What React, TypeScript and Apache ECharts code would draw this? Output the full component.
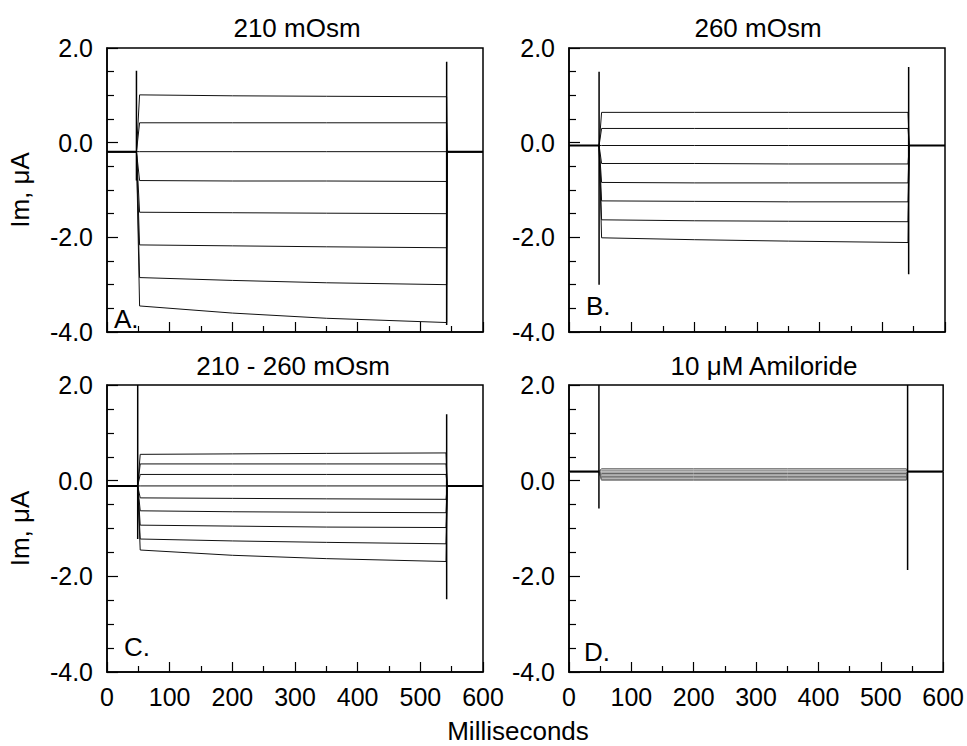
import { useEffect, useRef } from "react";
import * as echarts from "echarts";

// ---------- text ----------
const panelTitles = ["210 mOsm", "260 mOsm", "210 - 260 mOsm", "10 \u03bcM Amiloride"];
const panelLetters = ["A.", "B.", "C.", "D."];
const yAxisTitle = "Im, \u03bcA";
const xAxisTitle = "Milliseconds";

// ---------- axis ranges ----------
const xMin = 0;
const xMax = 600;
const xStep = 100;
const yMin = -4;
const yMax = 2;
const yStep = 2;

// ---------- data (ms, µA) ----------
// sample times of each step trace: holding, pulse onset, pulse plateau start, 200 ms, 350 ms, plateau end, return, end
const timesA = [0, 47, 52, 200, 350, 542, 543, 600];
const timesB = [0, 48, 52, 200, 350, 541, 543, 600];
const timesC = [0, 49, 53, 200, 350, 541, 543, 600];
const timesD = [0, 48, 52, 200, 350, 541, 543, 600];

const holdA = -0.19;
const holdB = -0.06;
const holdC = -0.11;
const holdD = 0.19;

// Panel A (210 mOsm)
const startA = [1.01, 0.42, -0.19, -0.8, -1.47, -2.16, -2.85, -3.45];
const at200A = [0.99, 0.42, -0.19, -0.81, -1.48, -2.18, -2.91, -3.6];
const at350A = [0.98, 0.42, -0.19, -0.81, -1.49, -2.2, -2.96, -3.71];
const endA = [0.97, 0.42, -0.19, -0.82, -1.5, -2.22, -3.0, -3.8];

// Panel B (260 mOsm)
const startB = [0.64, 0.3, -0.06, -0.44, -0.84, -1.23, -1.63, -2.01];
const at200B = [0.64, 0.3, -0.06, -0.44, -0.85, -1.24, -1.65, -2.05];
const at350B = [0.64, 0.3, -0.06, -0.45, -0.85, -1.25, -1.66, -2.08];
const endB = [0.64, 0.3, -0.06, -0.45, -0.85, -1.25, -1.67, -2.11];

// Panel C (210 - 260 mOsm)
const startC = [0.55, 0.35, 0.13, -0.11, -0.36, -0.63, -0.93, -1.22, -1.45];
const at200C = [0.56, 0.35, 0.13, -0.11, -0.37, -0.65, -0.95, -1.26, -1.56];
const at350C = [0.57, 0.35, 0.13, -0.11, -0.38, -0.66, -0.97, -1.29, -1.63];
const endC = [0.58, 0.35, 0.13, -0.11, -0.39, -0.67, -0.98, -1.32, -1.69];

// Panel D (10 µM Amiloride)
const startD = [0.25, 0.22, 0.18, 0.15, 0.12, 0.09, 0.06, 0.03, 0.01];
const at200D = [0.25, 0.22, 0.18, 0.15, 0.12, 0.09, 0.06, 0.03, 0.01];
const at350D = [0.25, 0.22, 0.18, 0.15, 0.12, 0.09, 0.06, 0.03, 0.01];
const endD = [0.25, 0.22, 0.18, 0.15, 0.12, 0.09, 0.06, 0.03, 0.01];

// capacitive transients: time, top, bottom
const spikeTimesA = [47, 542];
const spikeTopA = [1.52, 1.71];
const spikeBottomA = [-0.8, -3.85];
const spikeTimesB = [48, 542];
const spikeTopB = [1.5, 1.6];
const spikeBottomB = [-3.0, -2.78];
const spikeTimesC = [49, 542];
const spikeTopC = [2.0, 1.39];
const spikeBottomC = [-1.22, -2.48];
const spikeTimesD = [48, 543];
const spikeTopD = [2.0, 2.0];
const spikeBottomD = [-0.58, -1.87];

// ---------- layout ----------
const FONT = "'Liberation Sans', Arial, Helvetica, sans-serif";
const grids = [
  { left: 107, top: 48, width: 376, height: 284 },
  { left: 569, top: 48, width: 376, height: 284 },
  { left: 107, top: 385, width: 376, height: 287 },
  { left: 569, top: 385, width: 376, height: 287 },
];

type Panel = {
  times: number[];
  hold: number;
  start: number[];
  at200: number[];
  at350: number[];
  end: number[];
  spikeTimes: number[];
  spikeTop: number[];
  spikeBottom: number[];
  color: string;
};

const panels: Panel[] = [
  { times: timesA, hold: holdA, start: startA, at200: at200A, at350: at350A, end: endA, spikeTimes: spikeTimesA, spikeTop: spikeTopA, spikeBottom: spikeBottomA, color: "#111" },
  { times: timesB, hold: holdB, start: startB, at200: at200B, at350: at350B, end: endB, spikeTimes: spikeTimesB, spikeTop: spikeTopB, spikeBottom: spikeBottomB, color: "#111" },
  { times: timesC, hold: holdC, start: startC, at200: at200C, at350: at350C, end: endC, spikeTimes: spikeTimesC, spikeTop: spikeTopC, spikeBottom: spikeBottomC, color: "#111" },
  { times: timesD, hold: holdD, start: startD, at200: at200D, at350: at350D, end: endD, spikeTimes: spikeTimesD, spikeTop: spikeTopD, spikeBottom: spikeBottomD, color: "#666" },
];

function buildSeries() {
  const series: any[] = [];
  panels.forEach((p, gi) => {
    p.start.forEach((_, i) => {
      const vals = [p.hold, p.hold, p.start[i], p.at200[i], p.at350[i], p.end[i], p.hold, p.hold];
      series.push({
        type: "line",
        xAxisIndex: gi,
        yAxisIndex: gi,
        showSymbol: false,
        symbol: "none",
        lineStyle: { color: p.color, width: 1 },
        data: p.times.map((t, k) => [t, vals[k]]),
        silent: true,
      });
    });
    // thick holding baseline before and after pulse
    series.push({
      type: "line",
      xAxisIndex: gi,
      yAxisIndex: gi,
      symbol: "none",
      lineStyle: { color: "#000", width: 2 },
      data: [[p.times[0], p.hold], [p.times[1], p.hold], null, [p.times[6], p.hold], [p.times[7], p.hold]].map((d) => d ?? "-"),
      connectNulls: false,
      silent: true,
    });
    p.spikeTimes.forEach((t, k) => {
      series.push({
        type: "line",
        xAxisIndex: gi,
        yAxisIndex: gi,
        symbol: "none",
        lineStyle: { color: "#000", width: 1.5 },
        data: [[t, p.spikeTop[k]], [t, p.spikeBottom[k]]],
        silent: true,
      });
    });
  });
  return series;
}

function buildOption() {
  const xAxis = grids.map((_, gi) => ({
    type: "value",
    gridIndex: gi,
    min: xMin,
    max: xMax,
    interval: xStep,
    axisLine: { show: true, onZero: false, lineStyle: { color: "#000", width: 1.5 } },
    axisTick: { show: true, inside: true, length: 10, lineStyle: { color: "#000", width: 1.2 } },
    minorTick: { show: true, splitNumber: 2, length: 6, lineStyle: { color: "#000", width: 1.2 } },
    axisLabel: {
      show: gi >= 2,
      color: "#000",
      fontSize: 25,
      fontFamily: FONT,
      margin: 12,
    },
    splitLine: { show: false },
    minorSplitLine: { show: false },
  }));
  const yAxis = grids.map((_, gi) => ({
    type: "value",
    gridIndex: gi,
    min: yMin,
    max: yMax,
    interval: yStep,
    name: gi % 2 === 0 ? yAxisTitle : "",
    nameLocation: "middle",
    nameGap: 74,
    nameRotate: 90,
    nameTextStyle: { color: "#000", fontSize: 26, fontFamily: FONT },
    axisLine: { show: true, onZero: false, lineStyle: { color: "#000", width: 1.5 } },
    axisTick: { show: true, inside: true, length: 11, lineStyle: { color: "#000", width: 1.2 } },
    minorTick: { show: true, splitNumber: 4, length: 7, lineStyle: { color: "#000", width: 1.2 } },
    axisLabel: {
      color: "#000",
      fontSize: 25,
      fontFamily: FONT,
      margin: 14,
      formatter: (v: number) => v.toFixed(1),
    },
    splitLine: { show: false },
    minorSplitLine: { show: false },
  }));

  const titleCenters = [
    { x: 297, y: 28 },
    { x: 758, y: 28 },
    { x: 293, y: 366 },
    { x: 764, y: 366 },
  ];
  const letterPos = [
    { x: 114, y: 319 },
    { x: 586, y: 306 },
    { x: 124, y: 647 },
    { x: 584, y: 652 },
  ];

  const graphic: any[] = [];
  panelTitles.forEach((t, i) => {
    graphic.push({
      type: "text",
      x: titleCenters[i].x,
      y: titleCenters[i].y,
      silent: true,
      style: { text: t, fill: "#000", font: `26px ${FONT}`, align: "center", verticalAlign: "middle" },
    });
  });
  panelLetters.forEach((t, i) => {
    graphic.push({
      type: "text",
      x: letterPos[i].x,
      y: letterPos[i].y,
      silent: true,
      z: 10,
      style: { text: t, fill: "#000", font: `26px ${FONT}`, align: "left", verticalAlign: "middle" },
    });
  });
  graphic.push({
    type: "text",
    x: 518,
    y: 731,
    silent: true,
    style: { text: xAxisTitle, fill: "#000", font: `26px ${FONT}`, align: "center", verticalAlign: "middle" },
  });

  return {
    animation: false,
    backgroundColor: "#fff",
    grid: grids.map((g) => ({ ...g, show: true, borderColor: "#000", borderWidth: 1.5, backgroundColor: "transparent", containLabel: false })),
    xAxis,
    yAxis,
    series: buildSeries(),
    graphic,
  };
}

export default function App() {
  const ref = useRef<HTMLDivElement>(null);
  useEffect(() => {
    if (!ref.current) return;
    const chart = echarts.init(ref.current, null, { renderer: "svg" });
    chart.setOption(buildOption() as any);
    return () => chart.dispose();
  }, []);
  return (
    <div
      ref={ref}
      style={{ position: "fixed", left: 0, top: 0, width: 967, height: 746, background: "#fff" }}
    />
  );
}
